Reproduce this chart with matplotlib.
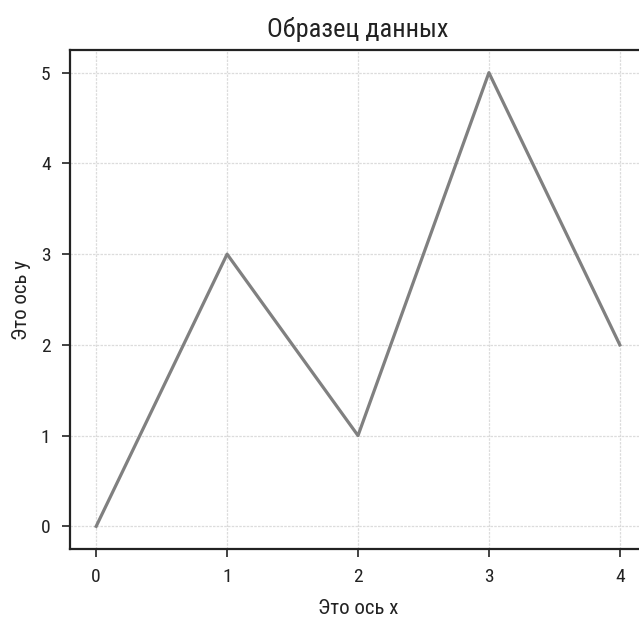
import matplotlib
matplotlib.use("Agg")
import matplotlib.pyplot as plt
from matplotlib import font_manager

x_values = [0, 1, 2, 3, 4]
y_values = [0, 3, 1, 5, 2]
title = "Образец данных"
xlabel = "Это ось x"
ylabel = "Это ось y"

names = {f.name for f in font_manager.fontManager.ttflist}
fam = [n for n in ["Roboto Condensed", "Liberation Sans Narrow", "Open Sans Condensed", "Noto Sans", "DejaVu Sans"] if n in names]
plt.rcParams['font.family'] = fam + ["DejaVu Sans"]

fig = plt.figure(figsize=(6.39, 6.17), dpi=100)
ax = fig.add_axes([70/639, 68/617, 576/639, 499/617])
ax.plot(x_values, y_values, color="#808080", linewidth=2.3)
ax.set_xlim(-0.2, 4.2)
ax.set_ylim(-0.25, 5.25)
ax.set_xticks(x_values)
ax.set_yticks(range(0, 6))
ax.grid(True, color="#dcdcdc", linestyle=(0, (2, 1)), linewidth=0.9)
ax.tick_params(direction="out", length=6, width=1.2, labelsize=14, colors="#222222", pad=8)
for s in ax.spines.values():
    s.set_linewidth(1.6)
    s.set_color("#222222")
ax.spines["right"].set_visible(False)
ax.set_title(title, fontsize=19, color="#222222", pad=9)
ax.set_xlabel(xlabel, fontsize=15, color="#222222", labelpad=9)
ax.set_ylabel(ylabel, fontsize=15, color="#222222", labelpad=7)
fig.savefig("out.png", dpi=100)
